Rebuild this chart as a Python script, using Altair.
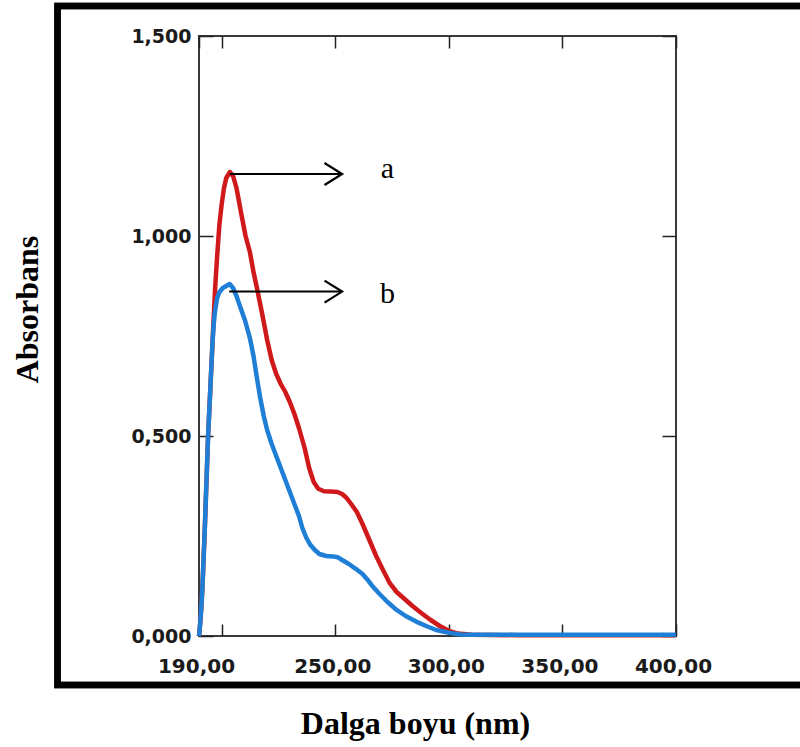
import altair as alt
import pandas as pd

# ---- data ----
wl_red = [190, 190.5, 191, 191.5, 192, 192.5, 193, 193.5, 194, 194.5, 195, 195.5, 196, 197, 198, 199, 200, 201,
          202, 203.6, 205, 206.5, 208.8, 210.5, 212.4, 214, 215.5, 218, 220, 222, 224, 226, 228, 230, 232, 234,
          236.5, 238.5, 240.5, 242.5, 245, 248, 251, 253, 255, 257, 259.5, 262, 265, 268, 271, 274, 277, 280,
          284, 288, 292, 296, 300, 304, 310, 330, 360, 400]
abs_red = [0.0, 0.03, 0.07, 0.12, 0.19, 0.26, 0.34, 0.42, 0.5, 0.56, 0.62, 0.68, 0.74, 0.86, 0.95, 1.03, 1.08, 1.12,
           1.145, 1.16, 1.15, 1.12, 1.05, 1.0, 0.96, 0.91, 0.87, 0.80, 0.74, 0.69, 0.655, 0.63, 0.61, 0.585, 0.555, 0.52,
           0.47, 0.42, 0.385, 0.368, 0.362, 0.361, 0.36, 0.355, 0.345, 0.33, 0.31, 0.28, 0.24, 0.2, 0.165, 0.132, 0.11, 0.095,
           0.075, 0.057, 0.04, 0.025, 0.013, 0.006, 0.003, 0.002, 0.002, 0.002]

wl_blue = [190, 190.5, 191, 191.5, 192, 192.5, 193, 193.5, 194, 194.5, 195, 195.5, 196, 196.5, 197, 198, 199, 200.5,
           202, 203.5, 205, 206.5, 208, 210.2, 212.4, 214, 215.5, 216.8, 218.5, 220, 222, 224, 226, 228, 230, 232,
           234, 235.5, 237.3, 239, 241, 243, 246, 249, 251, 253, 256, 259, 262, 264, 266.6, 269.5, 273, 276.8, 281,
           285.6, 290, 294.4, 300, 305, 310, 340, 370, 400]
abs_blue = [0.0, 0.03, 0.07, 0.12, 0.19, 0.26, 0.34, 0.42, 0.5, 0.56, 0.62, 0.68, 0.74, 0.78, 0.81, 0.845, 0.86, 0.87,
            0.875, 0.88, 0.87, 0.85, 0.825, 0.79, 0.745, 0.7, 0.645, 0.6, 0.55, 0.515, 0.48, 0.45, 0.42, 0.39, 0.36, 0.33,
            0.3, 0.27, 0.245, 0.228, 0.215, 0.205, 0.2, 0.199, 0.197, 0.19, 0.18, 0.168, 0.155, 0.142, 0.123, 0.105, 0.085,
            0.066, 0.05, 0.036, 0.025, 0.015, 0.008, 0.004, 0.003, 0.003, 0.003, 0.003]

x_ticks = [190, 200, 250, 300, 350, 400]
y_ticks = [0, 0.5, 1.0, 1.5]

ann_labels = ["a", "b"]
ann_y = [1.155, 0.861]
ann_x_start = [203.6, 203.3]
ann_x_end = [253, 253]
ann_text_x = [273, 273]
ann_text_y = [1.144, 0.832]

# ---- tables ----
red_df = pd.DataFrame({"nm": wl_red, "A": abs_red})
blue_df = pd.DataFrame({"nm": wl_blue, "A": abs_blue})
ann_df = pd.DataFrame({"label": ann_labels, "A": ann_y, "nm": ann_x_start, "nm2": ann_x_end,
                       "tx": ann_text_x, "ty": ann_text_y})

W, H = 477, 600

xscale = alt.Scale(domain=[190, 400], nice=False, zero=False)
yscale = alt.Scale(domain=[0, 1.5], nice=False, zero=True)

xaxis = alt.Axis(
    values=x_ticks,
    labelExpr="datum.value == 200 ? '' : replace(format(datum.value, '.2f'), '.', ',')",
    labelFont="DejaVu Sans", labelFontWeight="bold", labelFontSize=20, labelColor="#1a1a1a",
    labelPadding=20, labelOffset=-3, labelFlush=False, labelOverlap=False,
    ticks=False, tickSize=0, domain=False,
    grid=True, gridColor="#222222", gridWidth=1.5, gridDash=[12, H - 24, 12, 2000],
    title="Dalga boyu (nm)", titleFont="Liberation Serif", titleFontWeight="bold", titleFontSize=32,
    titleColor="black", titleX=216, titleY=97, titleBaseline="alphabetic", titleAlign="center",
)
yaxis = alt.Axis(
    values=y_ticks,
    labelExpr="replace(format(datum.value, '.3f'), '.', ',')",
    labelFont="DejaVu Sans", labelFontWeight="bold", labelFontSize=19, labelColor="#1a1a1a",
    labelPadding=8, labelFlush=False, labelOverlap=False, labelBaseline="middle",
    ticks=False, tickSize=0, domain=False,
    grid=True, gridColor="#222222", gridWidth=1.5, gridDash=[14, W - 28, 14, 2000],
    title="Absorbans", titleFont="Liberation Serif", titleFontWeight="bold", titleFontSize=32,
    titleColor="black", titleX=-162, titleY=273, titleAngle=270, titleBaseline="alphabetic",
    titleAlign="center",
)


def X(field):
    return alt.X(f"{field}:Q", scale=xscale, axis=xaxis)


def Y(field):
    return alt.Y(f"{field}:Q", scale=yscale, axis=yaxis)


red = alt.Chart(red_df).mark_line(color="#d0191b", strokeWidth=4.5, strokeJoin="round").encode(
    x=X("nm"), y=Y("A"))
blue = alt.Chart(blue_df).mark_line(color="#1f7fd6", strokeWidth=4.5, strokeJoin="round").encode(
    x=X("nm"), y=Y("A"))

shaft = alt.Chart(ann_df).mark_rule(color="black", strokeWidth=2).encode(
    x=X("nm"), x2="nm2:Q", y=Y("A"))
head = alt.Chart(ann_df).mark_point(
    shape="M -1.6 -1 L 0 0 L -1.6 1", filled=False, stroke="black", strokeWidth=2.2, size=484, opacity=1
).encode(x=X("nm2"), y=Y("A"))
text = alt.Chart(ann_df).mark_text(
    font="Liberation Serif", fontSize=30, color="black", align="center", baseline="alphabetic"
).encode(x=X("tx"), y=Y("ty"), text="label:N")

# outer black frame (decoration)
frame = alt.Chart(ann_df).mark_rect(
    filled=False, stroke="black", strokeWidth=6.5, fill=None
).encode(
    x=alt.value(-141.5), x2=alt.value(615), y=alt.value(-30), y2=alt.value(649)
)

chart = alt.layer(red, blue, shaft, head, text, frame).properties(
    width=W, height=H,
    autosize=alt.AutoSizeParams(type="none"),
    padding={"left": 199, "top": 36, "right": 124, "bottom": 111},
    background="white",
).configure_view(stroke="#3a3a3a", strokeWidth=2)

chart.save("out.html", embed_options={"renderer": "svg", "actions": False})
